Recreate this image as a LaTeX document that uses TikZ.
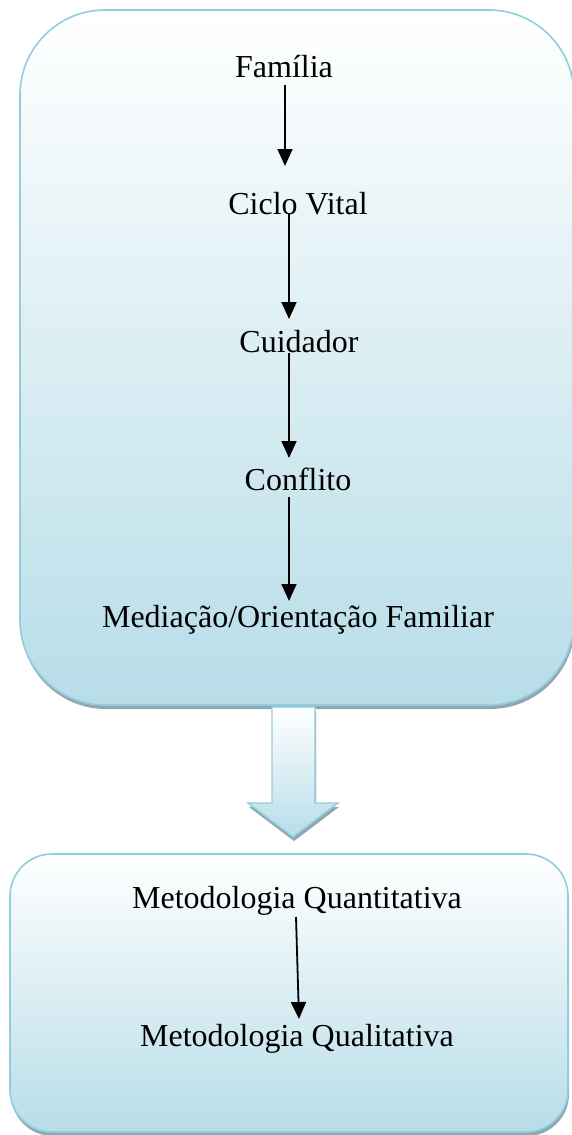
\documentclass[tikz,border=0pt]{standalone}
\usepackage{fontspec}
\setmainfont{Liberation Serif}
\usepackage{tikz}
\usetikzlibrary{arrows.meta,shadows,calc}

\definecolor{boxline}{HTML}{93CDDD}
\definecolor{boxfill}{HTML}{B7DDE8}
\definecolor{boxshadow}{HTML}{8FA8AF}

\tikzset{
  bigbox/.style={draw=boxline,line width=1.6pt,top color=white,bottom color=boxfill,
    drop shadow={shadow xshift=1pt,shadow yshift=-4pt,fill=boxshadow,opacity=1}},
  word/.style={anchor=base,inner sep=0pt,font=\fontsize{32}{38}\selectfont},
  flow/.style={line width=1.8pt,-{Triangle[width=15pt,length=17pt]}}
}

\begin{document}
\begin{tikzpicture}[x=1pt,y=1pt]
\useasboundingbox (0,0) rectangle (571,-1135);

\node[bigbox,rounded corners=85pt,minimum width=554pt,minimum height=695pt] (top) at (297,-357.5) {};
\node[bigbox,rounded corners=42pt,minimum width=558pt,minimum height=278pt] (bottom) at (289,-993) {};

% big arrow between the two boxes
\draw[bigbox,line width=1.4pt] (272,-707) -- (315,-707) -- (315,-803) -- (338,-803)
  -- (293,-837) -- (248,-803) -- (272,-803) -- cycle;

\node[word] (familia) at (284,-77) {Família};
\node[word] (ciclo) at (298,-214) {Ciclo Vital};
\node[word] (cuidador) at (299,-352) {Cuidador};
\node[word] (conflito) at (298,-490) {Conflito};
\node[word] (mediacao) at (298,-627) {Mediação/Orientação Familiar};

\node[word] (quanti) at (297,-908) {Metodologia Quantitativa};
\node[word] (quali) at (297,-1046) {Metodologia Qualitativa};

\coordinate (p1) at (285,-85);
\coordinate (p2) at (285,-166);
\coordinate (p3) at (289,-213);
\coordinate (p4) at (289,-319);
\coordinate (p5) at (289,-353);
\coordinate (p6) at (289,-458);
\coordinate (p7) at (289,-497);
\coordinate (p8) at (289,-601);
\coordinate (p9) at (296,-917);
\coordinate (p10) at (299,-1019);

\draw[flow] (p1) -- (p2);
\draw[flow] (p3) -- (p4);
\draw[flow] (p5) -- (p6);
\draw[flow] (p7) -- (p8);
\draw[flow] (p9) -- (p10);
\end{tikzpicture}
\end{document}
